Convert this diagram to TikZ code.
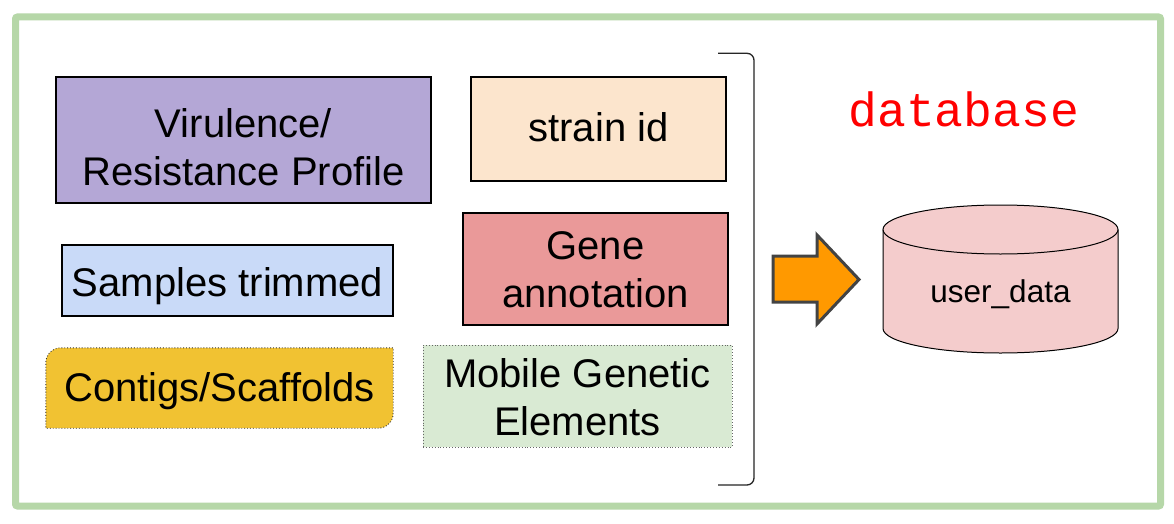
\documentclass[tikz,border=0pt]{standalone}
\usepackage{fontspec}
\setmainfont{Liberation Sans}
\newfontfamily\dbmono{Liberation Mono}
\definecolor{framegreen}{HTML}{B6D7A8}
\definecolor{virfill}{HTML}{B4A7D6}
\definecolor{samfill}{HTML}{C9DAF8}
\definecolor{confill}{HTML}{F1C232}
\definecolor{strfill}{HTML}{FCE5CD}
\definecolor{genfill}{HTML}{EA9999}
\definecolor{mobfill}{HTML}{D9EAD3}
\definecolor{cylfill}{HTML}{F4CCCC}
\definecolor{arrfill}{HTML}{FF9900}
\definecolor{arrline}{HTML}{434343}
\definecolor{dbred}{HTML}{FF0000}
\begin{document}
\begin{tikzpicture}[x=1pt,y=-1pt,
  boxtext/.style={align=center, inner sep=0pt, font=\fontsize{40}{48}\selectfont},
  solidbox/.style={boxtext, draw=black, line width=1.2pt},
  dotbox/.style={boxtext, draw=#1, line width=0.9pt, dotted},
  frame/.style={draw=framegreen, line width=7pt, rounded corners=2pt},
  bracketline/.style={draw=black!85, line width=1.3pt, rounded corners=7pt},
  blockarrow/.style={fill=arrfill, draw=arrline, line width=3pt, line join=miter},
  cyl/.style={fill=cylfill, draw=black, line width=1pt}]
\useasboundingbox (0,0) rectangle (1174,524);
\fill[white] (0,0) rectangle (1174,524);
\draw[frame] (15.5,17) rectangle (1160.5,506);

% left column
\node[solidbox, fill=virfill, minimum width=375pt, minimum height=126pt,
      text height=92pt, text depth=2pt] (vir) at (243.5,140) {Virulence/\\Resistance Profile};
\node[solidbox, fill=samfill, minimum width=331pt, minimum height=71pt,
      text height=36pt, text depth=3.6pt] (sam) at (227.5,280.5) {Samples trimmed};
\node[boxtext, minimum width=347pt, minimum height=80pt,
      text height=32pt, text depth=4.6pt] (con) at (219.5,388) {};
\path[fill=confill, draw=black!80, line width=0.9pt, dotted]
  (con.west) [rounded corners=15pt] -- (con.north west) [sharp corners] -- (con.north east)
  [rounded corners=15pt] -- (con.south east) [sharp corners] -- (con.south west)
  -- cycle;
\node[boxtext, text height=32pt, text depth=4.6pt] (contxt) at (con.center) {Contigs/Scaffolds};

% middle column
\node[solidbox, fill=strfill, minimum width=255pt, minimum height=104pt,
      text height=30pt, text depth=4.6pt] (str) at (598.5,129) {strain id};
\node[solidbox, fill=genfill, minimum width=265pt, minimum height=112pt,
      text height=80pt, text depth=4pt] (gen) at (595.5,269) {Gene\\annotation};
\node[dotbox=black!60, fill=mobfill, minimum width=309pt, minimum height=102pt,
      text height=82pt, text depth=4pt] (mob) at (577.5,396) {Mobile Genetic\\Elements};

% bracket
\coordinate (brTL) at (718,53.3);
\coordinate (brTR) at (754,53.3);
\coordinate (brBR) at (754,485);
\coordinate (brBL) at (718,485);
\draw[bracketline] (brTL) -- (brTR) -- (brBR) -- (brBL);

% block arrow
\coordinate (a1) at (773,256);
\coordinate (a2) at (817,256);
\coordinate (a3) at (817,235);
\coordinate (a4) at (859,279.5);
\coordinate (a5) at (817,324);
\coordinate (a6) at (817,302);
\coordinate (a7) at (773,302);
\draw[blockarrow] (a1) -- (a2) -- (a3) -- (a4) -- (a5) -- (a6) -- (a7) -- cycle;

% database label
\node[anchor=base, inner sep=0pt, text=dbred, font=\dbmono\fontsize{48}{48}\selectfont] (dblabel) at (963.7,126) {database};

% cylinder
\coordinate (cylTL) at (883,229.5);
\coordinate (cylBL) at (883,328.5);
\coordinate (cylTR) at (1118,229.5);
\coordinate (cylTC) at (1000.5,229.5);
\path[cyl] (cylTL) -- (cylBL) arc[start angle=180, end angle=360, x radius=117.5pt, y radius=24.5pt] -- (cylTR);
\path[cyl] (cylTC) ellipse[x radius=117.5pt, y radius=24.5pt];
\node[anchor=base, inner sep=0pt, font=\fontsize{31.5}{36}\selectfont] (udata) at (1000.5,302.7) {user\_data};
\end{tikzpicture}
\end{document}
